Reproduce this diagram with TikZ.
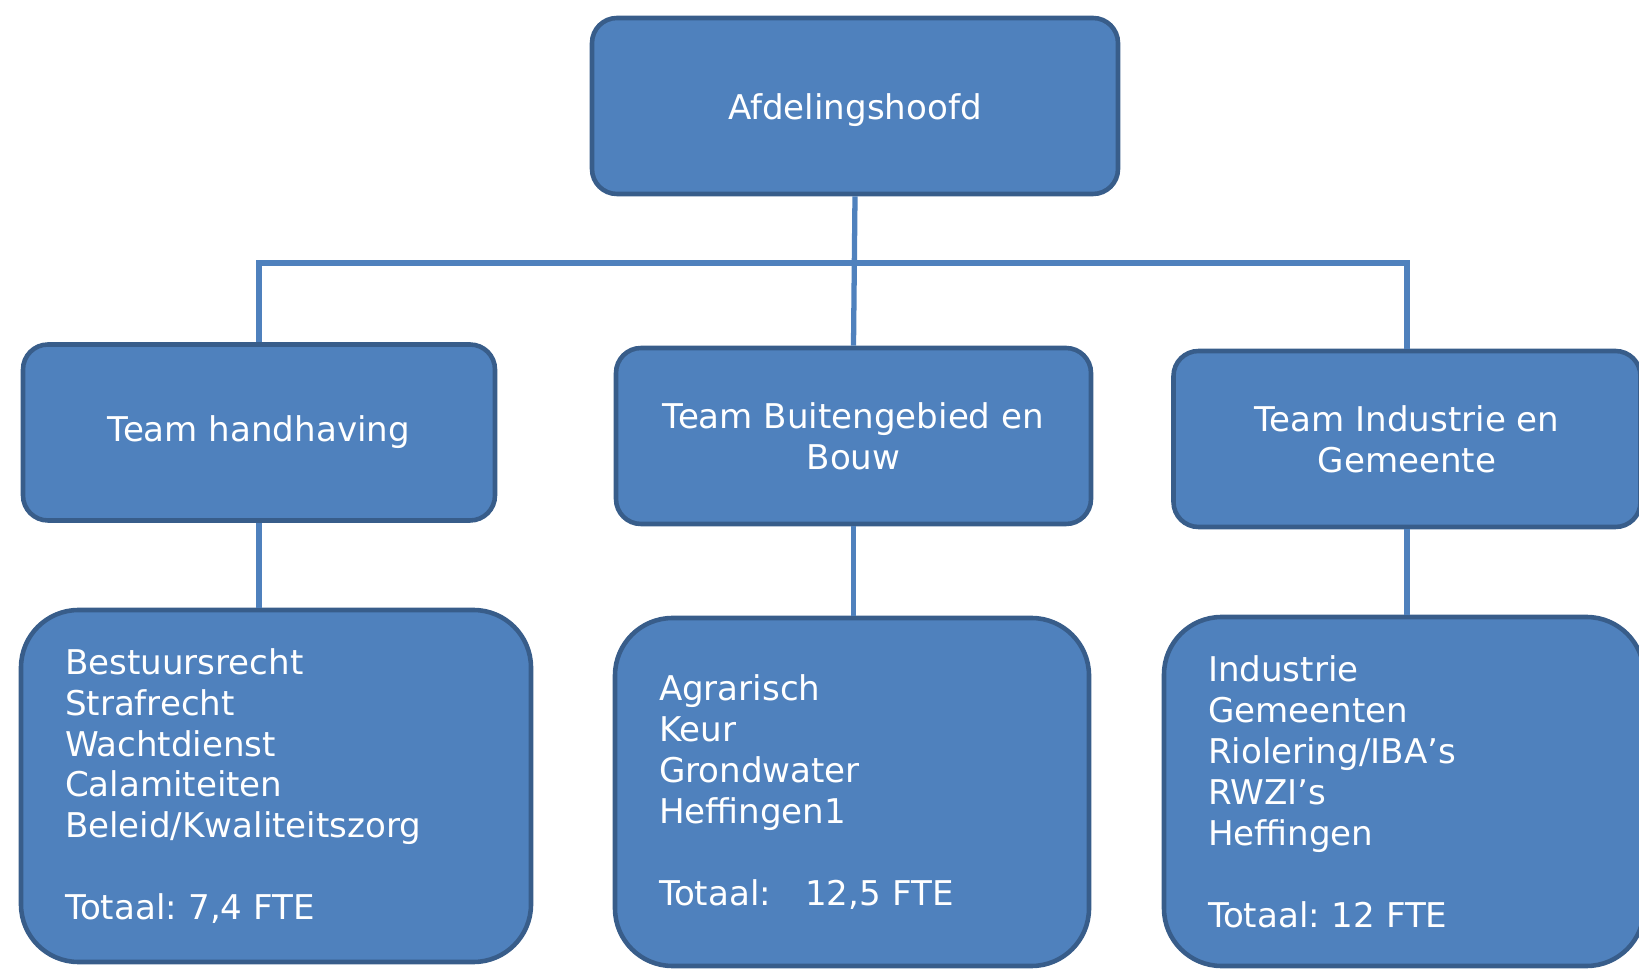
\documentclass[tikz,border=0pt]{standalone}
\usepackage{fontspec}
\setmainfont{DejaVu Sans}
\usepackage{xcolor}
\usepackage{tikz}
\usetikzlibrary{positioning, calc}

\definecolor{boxblue}{HTML}{4F81BD}
\definecolor{boxedge}{HTML}{385D8A}

\begin{document}
\begin{tikzpicture}[
    box/.style={rectangle, draw=boxedge, fill=boxblue, line width=2.6pt, text=white,
        font=\fontsize{19.4}{23.3}\selectfont},
    head/.style={box, rounded corners=0.5cm, minimum width=10.52cm, minimum height=3.52cm, align=center},
    team/.style={box, rounded corners=0.5cm, minimum height=3.52cm, align=center},
    tasks/.style={box, rounded corners=1.15cm, inner xsep=0.88cm, align=left},
    link/.style={draw=boxblue, line width=3pt}
]
    \useasboundingbox (0,0) rectangle (32.78,-19.38);

    \node[head] (hoofd) at (17.1,-2.12) {\raisebox{-7.5pt}[0pt][0pt]{Afdelingshoofd}};

    \node[team, minimum width=9.44cm] (hand) at (5.18,-8.65) {Team handhaving};
    \node[team, minimum width=9.5cm] (buiten) at (17.07,-8.72) {Team Buitengebied en\\Bouw};
    \node[team, minimum width=9.34cm] (indu) at (28.14,-8.78) {Team Industrie en\\Gemeente};

    \node[tasks, text width=8.44cm, minimum height=7.04cm] (handtaak) at (5.52,-15.72)
        {Bestuursrecht\\Strafrecht\\Wachtdienst\\Calamiteiten\\Beleid/Kwaliteitszorg\\[23.3pt]Totaal:~7,4 FTE};
    \node[tasks, text width=7.72cm, minimum height=6.96cm] (buitentaak) at (17.04,-15.84)
        {Agrarisch\\Keur\\Grondwater\\Heffingen1\\[23.3pt]Totaal:~~~12,5 FTE};
    \node[tasks, text width=7.84cm, minimum height=6.98cm] (indutaak) at (28.08,-15.83)
        {Industrie\\Gemeenten\\Riolering/IBA’s\\RWZI’s\\Heffingen\\[23.3pt]Totaal:~12 FTE};

    \coordinate (bar) at (17.1,-5.26);

    \draw[link] (hoofd.south) -- (buiten.north);
    \draw[link] (hand.north) |- (bar) -| (indu.north);
    \draw[link] (hand.south) -- (hand.south |- handtaak.north);
    \draw[link] (buiten.south) -- (buiten.south |- buitentaak.north);
    \draw[link] (indu.south) -- (indu.south |- indutaak.north);
\end{tikzpicture}
\end{document}
